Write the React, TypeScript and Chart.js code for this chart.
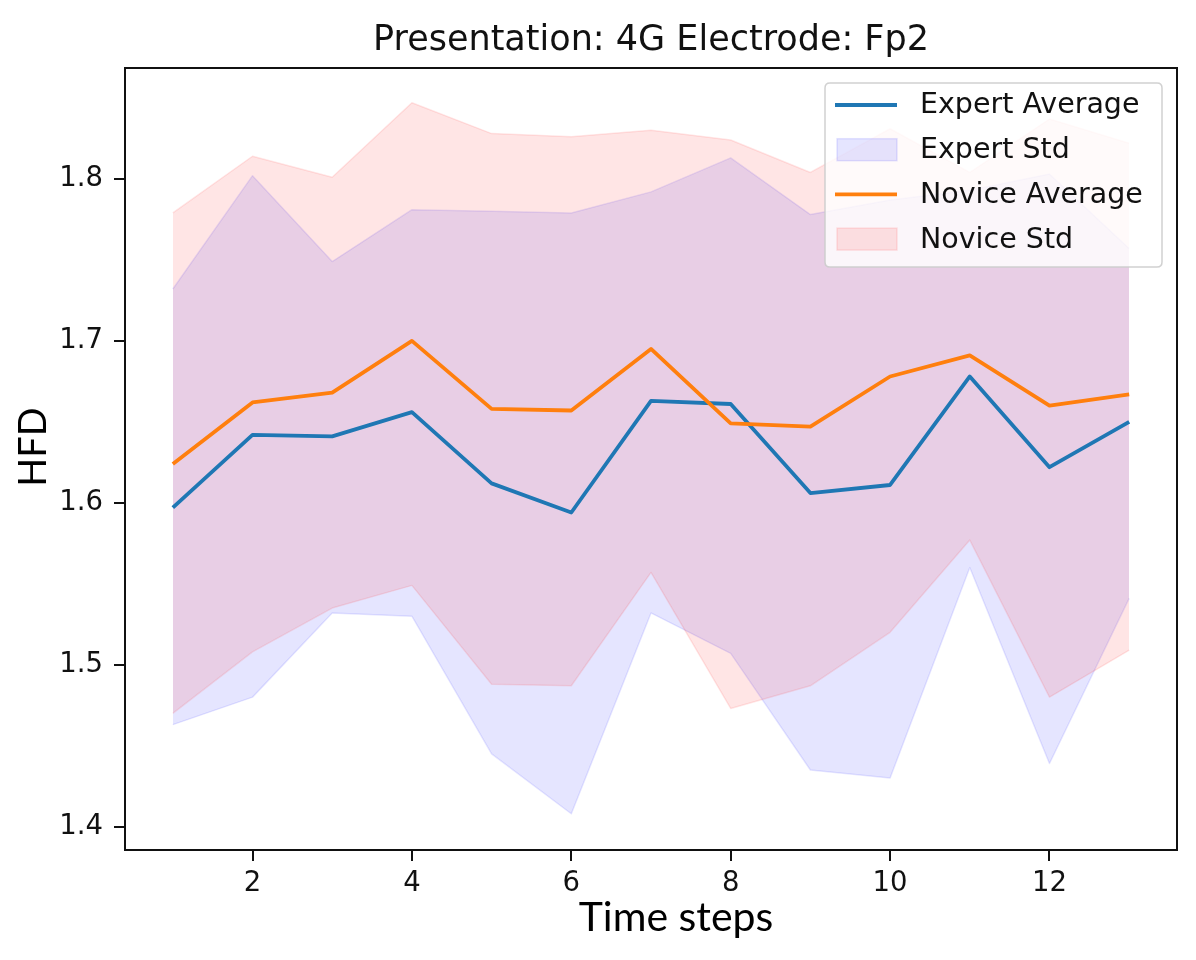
import React, { useEffect, useRef } from "react";
import { Chart, registerables } from "chart.js";

Chart.register(...registerables);

// ---- data ----
const timeSteps = [1, 2, 3, 4, 5, 6, 7, 8, 9, 10, 11, 12, 13];
const expertAverage = [1.597, 1.642, 1.641, 1.656, 1.612, 1.594, 1.663, 1.661, 1.606, 1.611, 1.678, 1.622, 1.650];
const expertStdUpper = [1.732, 1.802, 1.749, 1.781, 1.780, 1.779, 1.792, 1.813, 1.778, 1.787, 1.793, 1.803, 1.757];
const expertStdLower = [1.463, 1.480, 1.532, 1.530, 1.445, 1.408, 1.532, 1.507, 1.435, 1.430, 1.560, 1.439, 1.541];
const noviceAverage = [1.624, 1.662, 1.668, 1.700, 1.658, 1.657, 1.695, 1.649, 1.647, 1.678, 1.691, 1.660, 1.667];
const noviceStdUpper = [1.779, 1.814, 1.801, 1.847, 1.828, 1.826, 1.830, 1.824, 1.804, 1.831, 1.804, 1.837, 1.822];
const noviceStdLower = [1.470, 1.508, 1.535, 1.549, 1.488, 1.487, 1.557, 1.473, 1.487, 1.520, 1.577, 1.480, 1.509];
const xTickValues = [2, 4, 6, 8, 10, 12];
const yTickValues = [1.4, 1.5, 1.6, 1.7, 1.8];
const titleText = "Presentation: 4G Electrode: Fp2";
const xAxisTitle = "Time steps";
const yAxisTitle = "HFD";
const legendEntries = [
  { label: "Expert Average", kind: "line", dataset: 0 },
  { label: "Expert Std", kind: "patch", dataset: 1 },
  { label: "Novice Average", kind: "line", dataset: 3 },
  { label: "Novice Std", kind: "patch", dataset: 4 },
];

const toPoints = (ys: number[]) => ys.map((y, i) => ({ x: timeSteps[i], y }));

const TICK_FONT = { family: "'DejaVu Sans', sans-serif", size: 27.5 };
const LEGEND_FONT = "28.5px 'DejaVu Sans', sans-serif";
const AXIS_TITLE_FAMILY = "Lato, 'DejaVu Sans', sans-serif";

const framePlugin = {
  id: "mplFrameLegend",
  afterDraw(chart: any) {
    const { ctx, chartArea } = chart;
    const { left, top, right, bottom } = chartArea;
    ctx.save();
    // axes frame
    ctx.strokeStyle = "#111";
    ctx.lineWidth = 2;
    ctx.strokeRect(left, top, right - left, bottom - top);

    // axis titles
    ctx.fillStyle = "#000";
    ctx.textAlign = "center";
    ctx.textBaseline = "middle";
    ctx.font = `41px ${AXIS_TITLE_FAMILY}`;
    ctx.fillText(xAxisTitle, (left + right) / 2 + 25, bottom + 68);
    ctx.save();
    ctx.translate(left - 91, (top + bottom) / 2 - 12);
    ctx.rotate(-Math.PI / 2);
    ctx.font = `38px ${AXIS_TITLE_FAMILY}`;
    ctx.fillText(yAxisTitle, 0, 0);
    ctx.restore();

    // legend (upper right)
    const boxRight = right - 15;
    const boxTop = top + 15;
    const boxW = 337;
    const boxH = 184;
    const boxLeft = boxRight - boxW;
    const r = 5;
    ctx.beginPath();
    ctx.moveTo(boxLeft + r, boxTop);
    ctx.lineTo(boxRight - r, boxTop);
    ctx.quadraticCurveTo(boxRight, boxTop, boxRight, boxTop + r);
    ctx.lineTo(boxRight, boxTop + boxH - r);
    ctx.quadraticCurveTo(boxRight, boxTop + boxH, boxRight - r, boxTop + boxH);
    ctx.lineTo(boxLeft + r, boxTop + boxH);
    ctx.quadraticCurveTo(boxLeft, boxTop + boxH, boxLeft, boxTop + boxH - r);
    ctx.lineTo(boxLeft, boxTop + r);
    ctx.quadraticCurveTo(boxLeft, boxTop, boxLeft + r, boxTop);
    ctx.closePath();
    ctx.fillStyle = "rgba(255,255,255,0.8)";
    ctx.fill();
    ctx.strokeStyle = "rgba(204,204,204,0.9)";
    ctx.lineWidth = 1.5;
    ctx.stroke();

    const rowStart = boxTop + 22;
    const rowGap = 44.7;
    const sampleX0 = boxLeft + 10;
    const sampleX1 = boxLeft + 72;
    ctx.font = LEGEND_FONT;
    ctx.textBaseline = "middle";
    ctx.textAlign = "left";
    legendEntries.forEach((entry, i) => {
      const ds = chart.data.datasets[entry.dataset];
      const y = rowStart + i * rowGap;
      if (entry.kind === "line") {
        ctx.beginPath();
        ctx.moveTo(sampleX0, y);
        ctx.lineTo(sampleX1, y);
        ctx.strokeStyle = ds.borderColor;
        ctx.lineWidth = ds.borderWidth;
        ctx.stroke();
      } else {
        ctx.fillStyle = ds.backgroundColor;
        ctx.fillRect(sampleX0 + 2, y - 11, sampleX1 - sampleX0 - 2, 22);
        ctx.strokeStyle = ds.borderColor;
        ctx.lineWidth = 1.5;
        ctx.strokeRect(sampleX0 + 2, y - 11, sampleX1 - sampleX0 - 2, 22);
      }
      ctx.fillStyle = "#111";
      ctx.fillText(entry.label, boxLeft + 95, y + 1);
    });
    ctx.restore();
  },
};

export default function App() {
  const canvasRef = useRef<HTMLCanvasElement | null>(null);

  useEffect(() => {
    document.body.style.margin = "0";
    const canvas = canvasRef.current;
    if (!canvas) return;
    const lineStyle = { pointRadius: 0, tension: 0, borderJoinStyle: "round" as const };
    const chart = new Chart(canvas, {
      type: "line",
      data: {
        datasets: [
          {
            label: "Expert Average",
            data: toPoints(expertAverage),
            borderColor: "#1f77b4",
            borderWidth: 3.8,
            fill: false,
            order: 1,
            ...lineStyle,
          },
          {
            label: "Expert Std",
            data: toPoints(expertStdUpper),
            borderColor: "rgba(0,0,255,0.1)",
            backgroundColor: "rgba(0,0,255,0.1)",
            borderWidth: 1.5,
            fill: "+1",
            order: 3,
            ...lineStyle,
          },
          {
            label: "Expert Std lower",
            data: toPoints(expertStdLower),
            borderColor: "rgba(0,0,255,0.1)",
            backgroundColor: "rgba(0,0,255,0.1)",
            borderWidth: 1.5,
            fill: false,
            order: 3,
            ...lineStyle,
          },
          {
            label: "Novice Average",
            data: toPoints(noviceAverage),
            borderColor: "#ff7f0e",
            borderWidth: 3.8,
            fill: false,
            order: 0,
            ...lineStyle,
          },
          {
            label: "Novice Std",
            data: toPoints(noviceStdUpper),
            borderColor: "rgba(255,0,0,0.1)",
            backgroundColor: "rgba(255,0,0,0.1)",
            borderWidth: 1.5,
            fill: "+1",
            order: 2,
            ...lineStyle,
          },
          {
            label: "Novice Std lower",
            data: toPoints(noviceStdLower),
            borderColor: "rgba(255,0,0,0.1)",
            backgroundColor: "rgba(255,0,0,0.1)",
            borderWidth: 1.5,
            fill: false,
            order: 2,
            ...lineStyle,
          },
        ],
      },
      options: {
        animation: false,
        responsive: false,
        events: [],
        layout: { padding: { left: 0, right: 19, top: 0, bottom: 0 } },
        plugins: {
          legend: { display: false },
          tooltip: { enabled: false },
          title: {
            display: true,
            fullSize: false,
            text: titleText,
            color: "#111",
            font: { family: "'DejaVu Sans', sans-serif", size: 35, weight: "normal" },
            padding: { top: 20, bottom: 6 },
          },
        },
        scales: {
          x: {
            type: "linear",
            min: 0.4,
            max: 13.6,
            afterBuildTicks: (scale: any) => {
              scale.ticks = xTickValues.map((value) => ({ value }));
            },
            afterFit: (scale: any) => {
              scale.height = 110;
            },
            ticks: {
              font: TICK_FONT,
              color: "#111",
              padding: 6,
              maxRotation: 0,
              autoSkip: false,
              callback: (v: any) => String(v),
            },
            grid: {
              display: true,
              drawOnChartArea: false,
              drawTicks: true,
              tickLength: 11,
              color: "#111",
              lineWidth: 2,
            },
            border: { display: false },
            title: { display: false, text: xAxisTitle },
          },
          y: {
            type: "linear",
            min: 1.3856,
            max: 1.8685,
            afterBuildTicks: (scale: any) => {
              scale.ticks = yTickValues.map((value) => ({ value }));
            },
            afterFit: (scale: any) => {
              scale.width = 125;
            },
            ticks: {
              font: TICK_FONT,
              color: "#111",
              padding: 11,
              autoSkip: false,
              callback: (v: any) => Number(v).toFixed(1),
            },
            grid: {
              display: true,
              drawOnChartArea: false,
              drawTicks: true,
              tickLength: 11,
              color: "#111",
              lineWidth: 2,
            },
            border: { display: false },
            title: { display: false, text: yAxisTitle },
          },
        },
      } as any,
      plugins: [framePlugin],
    });
    return () => chart.destroy();
  }, []);

  return (
    <div style={{ width: 1196, height: 960, background: "#fff" }}>
      <canvas ref={canvasRef} width={1196} height={960} style={{ display: "block" }} />
    </div>
  );
}
